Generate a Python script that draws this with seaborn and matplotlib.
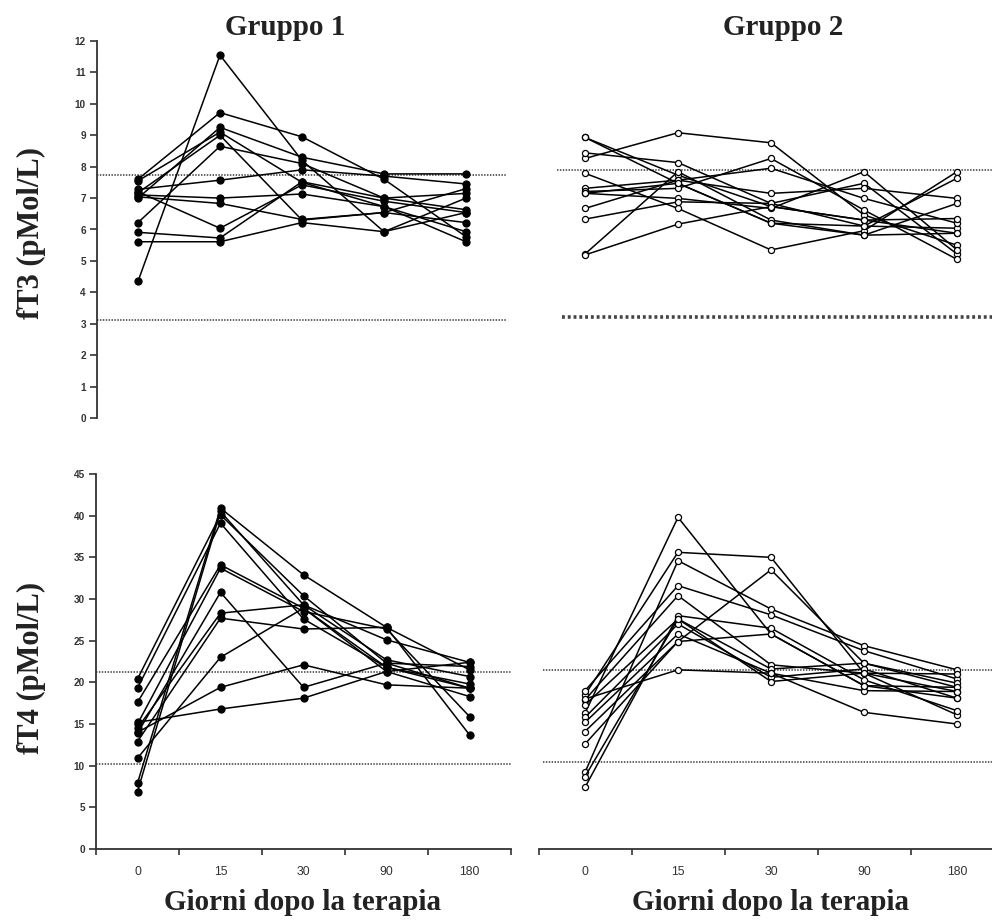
import numpy as np
import pandas as pd
import matplotlib
matplotlib.use("Agg")
import matplotlib.pyplot as plt
import seaborn as sns

# ---------------- data ----------------
days = ["0", "15", "30", "90", "180"]

# Gruppo 1, fT3 (pMol/L) - one list per patient (values at days 0,15,30,90,180)
g1_ft3 = [
    [4.35, 11.55, 8.20, 5.93, 6.54],
    [7.60, 9.72, 8.95, 7.60, 5.77],
    [7.00, 9.25, 8.30, 7.77, 7.77],
    [7.17, 9.00, 6.30, 6.54, 7.30],
    [6.22, 8.65, 8.10, 7.00, 6.63],
    [7.28, 7.57, 7.90, 7.70, 7.45],
    [5.91, 5.73, 7.52, 7.00, 7.15],
    [5.61, 5.61, 6.22, 5.93, 7.00],
    [7.04, 6.83, 6.32, 6.54, 6.22],
    [7.20, 6.04, 7.42, 6.90, 6.54],
    [7.10, 7.00, 7.13, 6.73, 5.93],
    [7.55, 9.10, 7.50, 6.73, 5.61],
]

# Gruppo 2, fT3 (pMol/L)
g2_ft3 = [
    [8.26, 9.08, 8.76, 6.46, 5.50],
    [8.93, 7.73, 6.73, 6.30, 5.88],
    [8.93, 7.47, 6.20, 6.11, 6.04],
    [8.44, 8.13, 6.83, 7.47, 5.22],
    [7.79, 6.67, 5.35, 5.96, 7.84],
    [7.31, 7.57, 7.95, 6.99, 6.20],
    [7.21, 7.31, 8.26, 6.62, 5.05],
    [7.15, 6.99, 6.67, 7.84, 5.35],
    [6.67, 7.57, 7.15, 7.31, 6.99],
    [6.33, 6.88, 6.83, 6.11, 7.63],
    [5.22, 7.84, 6.30, 5.82, 6.83],
    [5.19, 6.17, 6.73, 6.30, 6.35],
    [7.15, 7.47, 6.20, 5.82, 5.88],
]

# Gruppo 1, fT4 (pMol/L)
g1_ft4 = [
    [7.9, 40.9, 32.9, 26.6, 13.7],
    [6.9, 40.5, 29.3, 22.7, 20.7],
    [20.4, 40.1, 30.4, 22.3, 19.3],
    [19.3, 39.1, 27.6, 21.8, 19.8],
    [17.6, 34.1, 28.9, 21.3, 18.3],
    [15.0, 33.7, 28.5, 26.4, 15.9],
    [13.9, 30.8, 19.4, 22.3, 21.9],
    [14.5, 28.3, 29.3, 25.1, 22.4],
    [12.9, 27.7, 26.4, 26.6, 21.5],
    [10.9, 23.0, 28.9, 21.8, 19.3],
    [14.0, 19.4, 22.1, 19.7, 19.3],
    [15.2, 16.8, 18.1, 21.3, 22.4],
]

# Gruppo 2, fT4 (pMol/L)
g2_ft4 = [
    [16.3, 39.8, 25.8, 19.6, 19.4],
    [18.5, 35.6, 35.0, 21.1, 18.9],
    [9.2, 34.6, 28.8, 24.4, 21.5],
    [19.0, 31.6, 28.1, 23.8, 20.4],
    [17.9, 30.4, 22.1, 21.1, 16.1],
    [7.4, 28.0, 26.5, 20.3, 16.6],
    [8.7, 27.6, 21.6, 22.3, 19.9],
    [15.8, 27.0, 20.6, 21.6, 18.1],
    [14.1, 24.9, 33.5, 22.3, 19.4],
    [15.2, 25.8, 21.1, 19.0, 18.9],
    [18.0, 21.5, 21.1, 16.4, 15.0],
    [17.3, 27.6, 20.1, 21.1, 21.0],
    [12.6, 24.9, 25.8, 19.6, 18.1],
]

# reference range lines (upper, lower)
ref_g1_ft3 = [7.72, 3.12]
ref_g2_ft3 = [7.90, 3.22]
ref_g1_ft4 = [21.2, 10.2]
ref_g2_ft4 = [21.5, 10.4]

titles = ["Gruppo 1", "Gruppo 2"]
ylabels = ["fT3 (pMol/L)", "fT4 (pMol/L)"]
xlabel = "Giorni dopo la terapia"
ft3_ticks = list(range(0, 13))
ft4_ticks = list(range(0, 46, 5))


def to_long(series):
    rows = []
    for pid, vals in enumerate(series):
        for i, v in enumerate(vals):
            rows.append({"patient": pid, "pos": i, "day": days[i], "value": v})
    return pd.DataFrame(rows)


# ---------------- style ----------------
sns.set_theme(style="white")
plt.rcParams["font.family"] = ["Liberation Sans", "DejaVu Sans"]

W, H = 992, 921
fig = plt.figure(figsize=(W / 100, H / 100), dpi=100)


def rect(x0, x1, ytop, ybot):
    return [x0 / W, 1 - ybot / H, (x1 - x0) / W, (ybot - ytop) / H]


ax_tl = fig.add_axes(rect(97, 507, 41, 418))
ax_tr = fig.add_axes(rect(538.5, 1003.5, 41, 418))
ax_bl = fig.add_axes(rect(96, 511, 474, 849))
ax_br = fig.add_axes(rect(538.5, 1003.5, 474, 849))

for ax in (ax_tl, ax_tr, ax_bl, ax_br):
    ax.set_facecolor("white")
    ax.set_xlim(-0.5, 4.5)
    for s in ax.spines.values():
        s.set_visible(False)
        s.set_color("#333333")
        s.set_linewidth(1.3)

line_kw = dict(x="pos", y="value", units="patient", estimator=None,
               sort=False, color="black", linewidth=1.1, legend=False)

sns.lineplot(data=to_long(g1_ft3), ax=ax_tl, marker="o", markersize=5.2,
             markerfacecolor="black", markeredgecolor="black", **line_kw)
sns.lineplot(data=to_long(g2_ft3), ax=ax_tr, marker="o", markersize=4.4,
             markerfacecolor="white", markeredgecolor="black",
             markeredgewidth=0.9, **line_kw)
sns.lineplot(data=to_long(g1_ft4), ax=ax_bl, marker="o", markersize=5.2,
             markerfacecolor="black", markeredgecolor="black", **line_kw)
sns.lineplot(data=to_long(g2_ft4), ax=ax_br, marker="o", markersize=4.4,
             markerfacecolor="white", markeredgecolor="black",
             markeredgewidth=0.9, **line_kw)

dot = (0, (0.8, 0.8))
for y in ref_g1_ft3:
    ax_tl.axhline(y, color="#555555", lw=1.3, ls=dot, zorder=0)
ax_tr.axhline(ref_g2_ft3[0], xmin=0.04, xmax=1, color="#555555", lw=1.3, ls=dot, zorder=0)
ax_tr.axhline(ref_g2_ft3[1], xmin=0.05, xmax=1, color="#444444", lw=2.6, ls=dot, zorder=0)
for y in ref_g1_ft4:
    ax_bl.axhline(y, color="#555555", lw=1.3, ls=dot, zorder=0)
for y in ref_g2_ft4:
    ax_br.axhline(y, xmin=0.01, xmax=1, color="#555555", lw=1.3, ls=dot, zorder=0)

# y limits / ticks
ax_tl.set_ylim(0, 12)
ax_tr.set_ylim(0, 12)
ax_bl.set_ylim(0, 45)
ax_br.set_ylim(0, 45)

for ax, ticks in ((ax_tl, ft3_ticks), (ax_bl, ft4_ticks)):
    ax.spines["left"].set_visible(True)
    ax.set_yticks(ticks)
    ax.set_yticklabels([str(t) for t in ticks], fontsize=7.2, fontweight="bold",
                       color="#333333")
    ax.tick_params(axis="y", direction="out", length=5, width=1.2,
                   color="#333333", pad=3, left=True)
for ax in (ax_tr, ax_br):
    ax.set_yticks([])

# x axes
for ax in (ax_tl, ax_tr):
    ax.set_xticks([])
for ax in (ax_bl, ax_br):
    ax.spines["bottom"].set_visible(True)
    ax.set_xticks(range(len(days)))
    ax.set_xticklabels(days, fontsize=8.8, color="#333333")
    ax.tick_params(axis="x", which="major", length=0, pad=12)
    ax.set_xticks([i - 0.5 for i in range(len(days) + 1)], minor=True)
    ax.tick_params(axis="x", which="minor", direction="out", length=4,
                   width=1.2, color="#333333", bottom=True)

for ax in (ax_tl, ax_tr, ax_bl, ax_br):
    ax.set_xlabel("")
    ax.set_ylabel("")

serif = dict(family=["Liberation Serif", "DejaVu Serif"], fontweight="bold",
             color="#222222")
fig.text(285 / W, 1 - 35 / H, titles[0], ha="center", va="baseline",
         fontsize=21, **serif)
fig.text(783 / W, 1 - 35 / H, titles[1], ha="center", va="baseline",
         fontsize=21, **serif)
fig.text(31 / W, 1 - 233 / H, ylabels[0], ha="center", va="center",
         rotation=90, fontsize=22, **serif)
fig.text(31 / W, 1 - 668 / H, ylabels[1], ha="center", va="center",
         rotation=90, fontsize=22, **serif)
fig.text(302 / W, 1 - 910 / H, xlabel, ha="center", va="baseline",
         fontsize=21, **serif)
fig.text(770 / W, 1 - 910 / H, xlabel, ha="center", va="baseline",
         fontsize=21, **serif)

fig.savefig("out.png", dpi=100, facecolor="white")
